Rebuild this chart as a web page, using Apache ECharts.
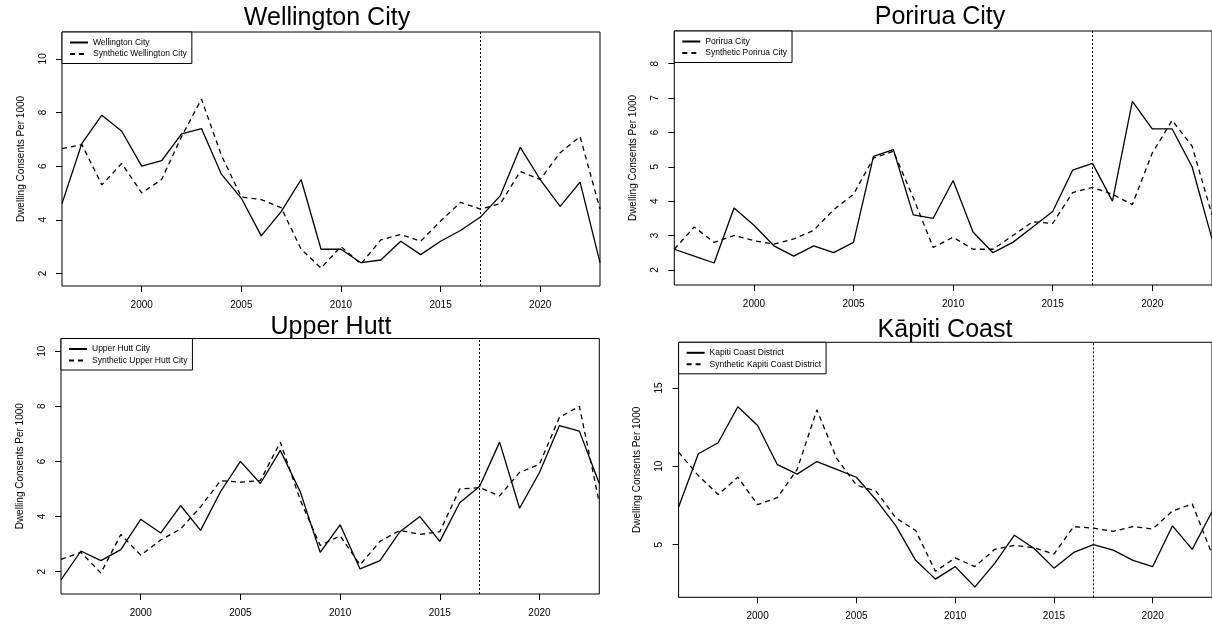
<!DOCTYPE html>
<html>
<head>
<meta charset="utf-8">
<script src="https://cdn.jsdelivr.net/npm/echarts@6/dist/echarts.min.js"></script>
<style>
html,body{margin:0;padding:0;background:#fff;}
#chart{width:1212px;height:624px;}
</style>
</head>
<body>
<div id="chart"></div>
<script>
const years = [1996,1997,1998,1999,2000,2001,2002,2003,2004,2005,2006,2007,2008,2009,2010,2011,2012,2013,2014,2015,2016,2017,2018,2019,2020,2021,2022,2023];
const xTicks = [2000,2005,2010,2015,2020];
const treatmentYear = 2017;

const titles = ['Wellington City','Porirua City','Upper Hutt','Kāpiti Coast'];
const actualNames = ['Wellington City','Porirua City','Upper Hutt City','Kapiti Coast District'];
const syntheticNames = ['Synthetic Wellington City','Synthetic Porirua City','Synthetic Upper Hutt City','Synthetic Kapiti Coast District'];

const wellington    = [4.6,6.85,7.9,7.3,6.0,6.2,7.2,7.4,5.7,4.8,3.4,4.3,5.5,2.9,2.9,2.4,2.5,3.2,2.7,3.2,3.6,4.1,4.9,6.7,5.5,4.5,5.4,2.4];
const synWellington = [6.65,6.8,5.3,6.1,5.0,5.5,7.1,8.5,6.4,4.85,4.75,4.45,2.9,2.2,3.0,2.35,3.25,3.45,3.2,3.95,4.65,4.4,4.6,5.8,5.5,6.5,7.1,4.4];
const porirua       = [2.6,2.4,2.2,3.8,3.3,2.7,2.4,2.7,2.5,2.8,5.3,5.5,3.6,3.5,4.6,3.1,2.5,2.8,3.25,3.7,4.9,5.1,4.0,6.9,6.1,6.1,5.0,2.9];
const synPorirua    = [2.6,3.25,2.8,3.0,2.85,2.75,2.9,3.15,3.75,4.2,5.25,5.45,4.1,2.65,2.95,2.6,2.6,3.0,3.4,3.35,4.25,4.4,4.2,3.9,5.4,6.35,5.6,3.6];
const upperHutt     = [1.7,2.75,2.4,2.8,3.9,3.4,4.4,3.5,4.9,6.0,5.2,6.4,4.9,2.7,3.7,2.1,2.4,3.45,4.0,3.1,4.5,5.1,6.7,4.3,5.6,7.3,7.1,5.2];
const synUpperHutt  = [2.45,2.7,1.95,3.35,2.6,3.15,3.55,4.35,5.3,5.25,5.3,6.7,4.6,2.95,3.3,2.25,3.1,3.5,3.35,3.45,5.0,5.05,4.75,5.6,5.9,7.6,8.0,4.5];
const kapiti        = [7.4,10.8,11.5,13.8,12.6,10.1,9.5,10.3,9.8,9.3,7.85,6.2,4.0,2.8,3.6,2.3,3.8,5.6,4.75,3.5,4.5,5.0,4.65,4.0,3.6,6.2,4.7,7.1];
const synKapiti     = [10.9,9.4,8.2,9.3,7.55,8.0,9.8,13.6,10.5,8.8,8.4,6.7,5.9,3.3,4.15,3.6,4.7,4.95,4.8,4.4,6.15,6.05,5.85,6.15,6.0,7.15,7.6,4.4];

const yTicks = [[2,4,6,8,10],[2,3,4,5,6,7,8],[2,4,6,8,10],[5,10,15]];
const yMin = [1.53,1.56,1.19,1.64];
const yMax = [11.0,8.95,10.46,17.91];

const actualSeries = [wellington, porirua, upperHutt, kapiti];
const syntheticSeries = [synWellington, synPorirua, synUpperHutt, synKapiti];

const FONT = 'Liberation Sans, Arial, Helvetica, sans-serif';
const grids = [
  {left:62, top:32, width:538, height:254},
  {left:674.3, top:31, width:538, height:254},
  {left:61, top:338.5, width:538.3, height:255.5},
  {left:678.6, top:342.3, width:538, height:255}
];
const titlePos = [[327,6],[940,5],[331,315],[945,318]];

const chart = echarts.init(document.getElementById('chart'), null, {renderer:'canvas'});

const option = {
  animation:false,
  backgroundColor:'#fff',
  title: titles.map((t,i)=>({
    text:t, left:titlePos[i][0], top:titlePos[i][1], textAlign:'center', padding:0,
    textStyle:{fontSize:25, fontWeight:'normal', color:'#000', fontFamily:FONT}
  })),
  grid: grids.map(g=>Object.assign({show:true, borderColor:'#000', borderWidth:1, backgroundColor:'transparent'}, g)),
  legend: grids.map((g,i)=>({
    left:g.left, top:g.top, orient:'vertical',
    data:[actualNames[i], syntheticNames[i]],
    itemWidth:18, itemHeight:9, itemGap:2.5,
    padding:[6,5,5,7],
    borderColor:'#000', borderWidth:1, backgroundColor:'#fff',
    selectedMode:false,
    itemStyle:{color:'rgba(0,0,0,0)', borderWidth:0, opacity:0},
    textStyle:{fontSize:8.5, color:'#000', fontFamily:FONT}
  })),
  xAxis: grids.map((g,i)=>({
    type:'value', gridIndex:i, min:1996, max:2023,
    axisLine:{show:false},
    splitLine:{show:false},
    axisTick:{show:true, length:6, lineStyle:{color:'#000', width:1}, customValues:xTicks},
    axisLabel:{show:true, color:'#000', fontSize:10, fontFamily:FONT, margin:14, customValues:xTicks, formatter:v=>String(v)}
  })),
  yAxis: grids.map((g,i)=>({
    type:'value', gridIndex:i, min:yMin[i], max:yMax[i],
    name:'Dwelling Consents Per 1000', nameLocation:'middle', nameRotate:90, nameGap:36,
    nameTextStyle:{fontSize:10, color:'#000', fontFamily:FONT},
    axisLine:{show:false},
    splitLine:{show:false},
    axisTick:{show:true, length:6, lineStyle:{color:'#000', width:1}, customValues:yTicks[i]},
    axisLabel:{show:true, rotate:90, color:'#000', fontSize:10, fontFamily:FONT, margin:14, customValues:yTicks[i], formatter:v=>String(v)}
  })),
  series: []
};

for (let i=0;i<4;i++){
  option.series.push({
    name:actualNames[i], type:'line', xAxisIndex:i, yAxisIndex:i,
    data: years.map((y,k)=>[y, actualSeries[i][k]]),
    symbol:'none', showSymbol:false, clip:true,
    lineStyle:{color:'#000', width:1.3, type:'solid'},
    itemStyle:{color:'#000'}
  });
  option.series.push({
    name:syntheticNames[i], type:'line', xAxisIndex:i, yAxisIndex:i,
    data: years.map((y,k)=>[y, syntheticSeries[i][k]]),
    symbol:'none', showSymbol:false, clip:true,
    lineStyle:{color:'#000', width:1.3, type:[5,4]},
    itemStyle:{color:'#000'},
    markLine:{
      silent:true, symbol:['none','none'], label:{show:false},
      lineStyle:{color:'#000', width:1, type:[2,2]},
      data:[{xAxis:treatmentYear}]
    }
  });
}

chart.setOption(option);
</script>
</body>
</html>
